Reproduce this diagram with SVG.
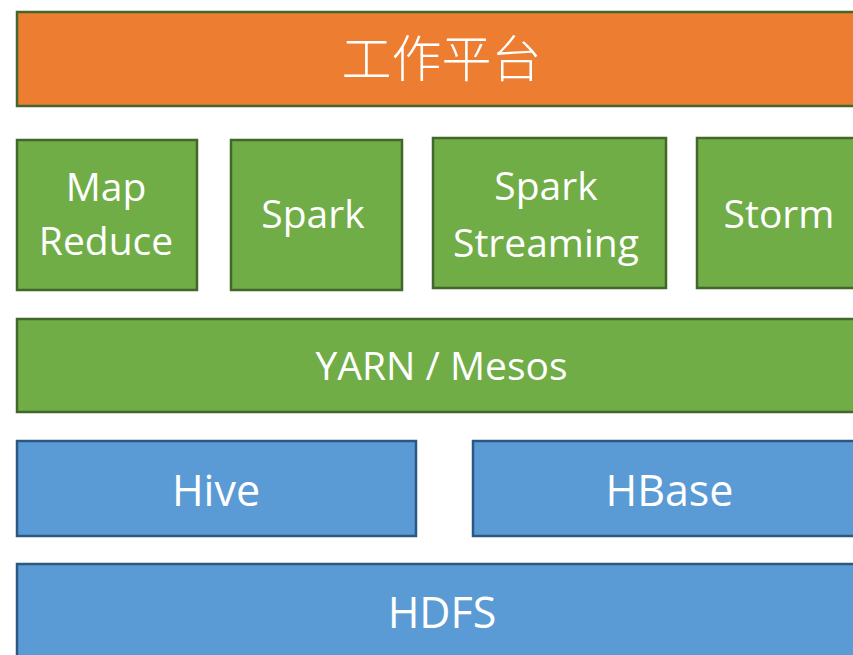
<svg xmlns="http://www.w3.org/2000/svg" width="853" height="655" viewBox="0 0 853 655">
<style>
.o{fill:#ED7D31;stroke:#41672A;stroke-width:2.5}
.g{fill:#70AD47;stroke:#41672A;stroke-width:2.5}
.b{fill:#5B9BD5;stroke:#2B5783;stroke-width:2.5}
text{fill:#fff;font-family:"Open Sans","Noto Sans",sans-serif;text-anchor:middle}
.s{font-size:39px}
.m{font-size:39px}
.l{font-size:43px}
.cjk{font-family:"Noto Sans CJK SC",sans-serif;font-weight:300;font-size:50px}
</style>
<rect width="853" height="655" fill="#fff"/>
<g id="platform"><rect class="o" x="17" y="12" width="860" height="94"/><text class="cjk" x="441.5" y="77">工作平台</text></g>
<g id="mapreduce"><rect class="g" x="17" y="140" width="180" height="150"/><text class="s" x="106" y="201">Map</text><text class="s" x="106" y="255">Reduce</text></g>
<g id="spark"><rect class="g" x="231" y="140" width="171" height="150"/><text class="s" x="313" y="228">Spark</text></g>
<g id="sparkstreaming"><rect class="g" x="433" y="138" width="233" height="150"/><text class="s" x="546" y="200">Spark</text><text class="s" x="546" y="257">Streaming</text></g>
<g id="storm"><rect class="g" x="697" y="138" width="180" height="150"/><text class="s" x="779" y="228">Storm</text></g>
<g id="yarn"><rect class="g" x="17" y="319" width="860" height="93"/><text class="m" x="441.5" y="380">YARN / Mesos</text></g>
<g id="hive"><rect class="b" x="17" y="441" width="399" height="95"/><text class="l" x="216" y="506">Hive</text></g>
<g id="hbase"><rect class="b" x="473" y="441" width="400" height="95"/><text class="l" x="669.5" y="506">HBase</text></g>
<g id="hdfs"><rect class="b" x="17" y="564" width="860" height="100"/><text class="l" x="442" y="628">HDFS</text></g>
<g id="connectors"></g>
</svg>
